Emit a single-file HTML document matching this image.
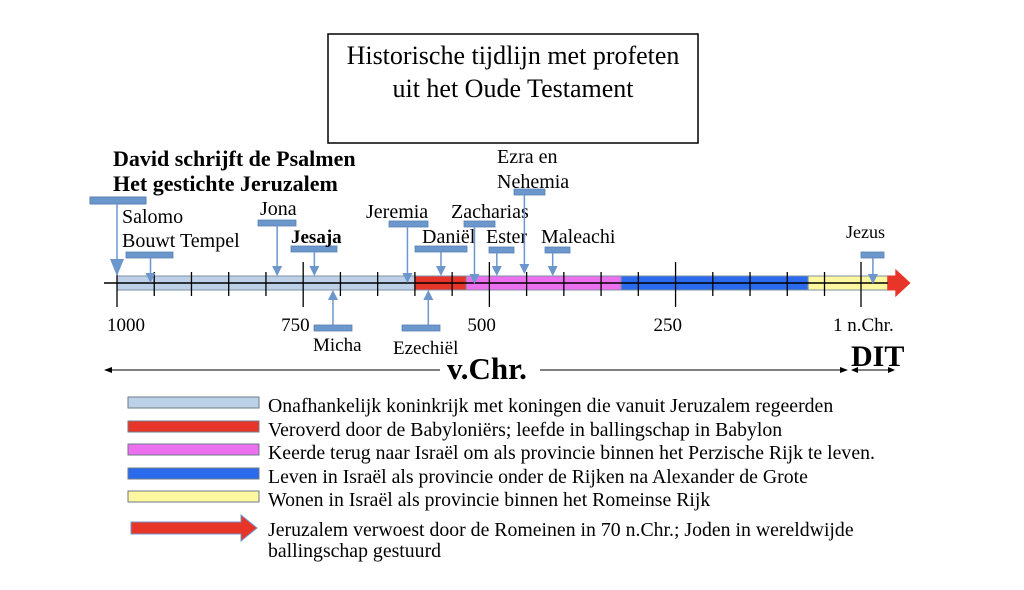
<!DOCTYPE html>
<html><head><meta charset="utf-8"><style>
body{margin:0;background:#fff;}
svg{display:block;font-family:"Liberation Serif",serif;}
</style></head><body>
<svg id="c" width="1024" height="590" viewBox="0 0 1024 590">
<rect x="328" y="34" width="370" height="109" fill="#fff" stroke="#000" stroke-width="1.5"/>
<text x="513" y="64" font-size="26" text-anchor="middle">Historische tijdlijn met profeten</text>
<text x="513" y="97" font-size="26" text-anchor="middle">uit het Oude Testament</text>
<g id="bands"></g><g id="axis"></g><g id="marks"></g>
<text x="447" y="379" font-size="31" font-weight="bold">v.Chr.</text>
<line x1="106" y1="370" x2="440" y2="370" stroke="#000"/>
<polygon points="104,370 112,367 112,373" fill="#000"/>
<line x1="540" y1="370" x2="846" y2="370" stroke="#000"/>
<polygon points="848,370 840,367 840,373" fill="#000"/>
<text x="851" y="366" font-size="30" font-weight="bold">DIT</text>
<line x1="852" y1="370" x2="893" y2="370" stroke="#000"/>
<polygon points="851,370 858,367 858,373" fill="#000"/><polygon points="895,370 888,367 888,373" fill="#000"/>
<g id="legend"></g>
</svg>
<script>
const ns="http://www.w3.org/2000/svg";
const svg=document.getElementById('c');
function mk(t,a,p){const e=document.createElementNS(ns,t);for(const k in a)e.setAttribute(k,a[k]);(p||svg).appendChild(e);return e;}
// data (years BC; negative = AD)
const bandStarts=[1000,600,531,323,72];
const bandEnds=[600,531,323,72,-35];
const bandColors=['#bcd1e8','#e8352a','#ec6ff0','#2a6bee','#fdf7a0'];
const tickYears=[1000,950,900,850,800,750,700,650,600,550,500,450,400,350,300,250,200,150,100,50,1];
const majorYears=[1000,750,500,250,1];
const tickLabels=['1000','750','500','250','1 n.Chr.'];
const prophetNames=['Salomo','Jona','Jesaja','Jeremia','Daniël','Zacharias','Ester','Ezra','Maleachi','Jezus'];
const prophetYears=[955,785,735,610,565,520,490,453,415,-15];
const belowNames=['Micha','Ezechiël'];
const belowYears=[710,582];
function X(y){return 117+(1000-y)*(861-117)/999;}
const gB=document.getElementById('bands'),gA=document.getElementById('axis'),gM=document.getElementById('marks'),gL=document.getElementById('legend');
bandStarts.forEach((s,i)=>{const r=mk('rect',{x:X(s),y:276,width:X(bandEnds[i])-X(s),height:14,fill:bandColors[i],stroke:'#7f8fa0','stroke-width':1},gB);

});
const ae=X(bandEnds[4]);
const arr=mk('polygon',{points:`${ae},276 ${ae+8},276 ${ae+8},270 ${ae+22},283 ${ae+8},296 ${ae+8},290 ${ae},290`,fill:'#e8352a',stroke:'#e8352a'},gB);


mk('line',{x1:104,y1:283,x2:X(bandEnds[4]),y2:283,stroke:'#000','stroke-width':1.5},gA);
tickYears.forEach(t=>{const maj=majorYears.includes(t);const l=mk('line',{x1:X(t),x2:X(t),y1:maj?262:272,y2:maj?307:296,stroke:'#000','stroke-width':1.3},gA);

});
majorYears.forEach((t,i)=>{const tx=mk('text',{x:X(t)-(i==4?28:i==0?10:22),y:331,'font-size':19},gA);tx.textContent=tickLabels[i];

});
const C='#6b97cc';
function pointer(x,rx,rw,ry,tipY,up){
 mk('rect',{x:rx,y:ry,width:rw,height:6,fill:C,stroke:'#5a82b5','stroke-width':0.8},gM);
 if(!up){mk('line',{x1:x,x2:x,y1:ry+6,y2:tipY-9,stroke:C,'stroke-width':1.5},gM);
  mk('polygon',{points:`${x-5},${tipY-10} ${x+5},${tipY-10} ${x},${tipY}`,fill:C},gM);}
 else{mk('line',{x1:x,x2:x,y1:ry,y2:tipY+9,stroke:C,'stroke-width':1.5},gM);
  mk('polygon',{points:`${x-5},${tipY+10} ${x+5},${tipY+10} ${x},${tipY}`,fill:C},gM);}
}
const dx=X(1000);
mk('rect',{x:90,y:197,width:56,height:7,fill:C,stroke:'#5a82b5'},gM);
mk('line',{x1:dx,x2:dx,y1:204,y2:262,stroke:C,'stroke-width':1.5},gM);
mk('polygon',{points:`${dx-7},259 ${dx+7},259 ${dx},276`,fill:C},gM);
function txt(s,x,y,o){const t=mk('text',Object.assign({x:x,y:y,'font-size':20},o||{}),gM);t.textContent=s;

return t;}
txt('David schrijft de Psalmen',113,166,{'font-size':22,'font-weight':'bold'});
txt('Het gestichte Jeruzalem',113,191,{'font-size':22,'font-weight':'bold'});
const cfg=[
 {rx:126,rw:47,ry:252,tip:283,lab:[['Salomo',122,223],['Bouwt Tempel',122,247]]},
 {rx:258,rw:38,ry:220,tip:276,lab:[['Jona',260,215]]},
 {rx:291,rw:46,ry:246,tip:276,lab:[['Jesaja',291,243]],bold:1},
 {rx:389,rw:39,ry:221,tip:283,lab:[['Jeremia',366,218]]},
 {rx:415,rw:52,ry:246,tip:276,lab:[['Daniël',422,243]]},
 {rx:464,rw:31,ry:221,tip:284,lab:[['Zacharias',451,218]]},
 {rx:489,rw:25,ry:247,tip:276,lab:[['Ester',486,243]]},
 {rx:514,rw:31,ry:189,tip:274,lab:[['Ezra en',497,163],['Nehemia',497,188]]},
 {rx:545,rw:25,ry:247,tip:276,lab:[['Maleachi',541,243]]},
 {rx:861,rw:23,ry:252,tip:284,lab:[['Jezus',846,238]],small:1}
];
prophetNames.forEach((n,i)=>{const c=cfg[i];const x=X(prophetYears[i]);
 pointer(x,c.rx,c.rw,c.ry,c.tip,false);
 c.lab.forEach(l=>txt(l[0],l[1],l[2],c.bold?{'font-weight':'bold','font-size':19}:(c.small?{'font-size':18}:{})));});
const bcfg=[{rx:314,rw:38,lx:313,ly:351},{rx:402,rw:38,lx:393,ly:354}];
belowNames.forEach((n,i)=>{const c=bcfg[i];pointer(X(belowYears[i]),c.rx,c.rw,325,290,true);txt(n,c.lx,c.ly,{'font-size':19});});
const legendLabels=['Onafhankelijk koninkrijk met koningen die vanuit Jeruzalem regeerden','Veroverd door de Babyloniërs; leefde in ballingschap in Babylon','Keerde terug naar Israël om als provincie binnen het Perzische Rijk te leven.','Leven in Israël als provincie onder de Rijken na Alexander de Grote','Wonen in Israël als provincie binnen het Romeinse Rijk'];
const legendY=[397,421,444,468,491];
legendLabels.forEach((s,i)=>{const r=mk('rect',{x:128,y:legendY[i],width:131,height:11,fill:bandColors[i],stroke:'#6e7a88','stroke-width':1},gL);


const t=mk('text',{x:268,y:legendY[i]+15,'font-size':19.8},gL);t.textContent=s;

});
const la=mk('polygon',{points:'131,522 241,522 241,515 257,528 241,541 241,534 131,534',fill:'#e8352a',stroke:'#6b97cc'},gL);


const l1=mk('text',{x:268,y:536,'font-size':19.8},gL);l1.textContent='Jeruzalem verwoest door de Romeinen in 70 n.Chr.; Joden in wereldwijde';


const l2=mk('text',{x:268,y:557,'font-size':19.8},gL);l2.textContent='ballingschap gestuurd';


</script>
</body></html>
